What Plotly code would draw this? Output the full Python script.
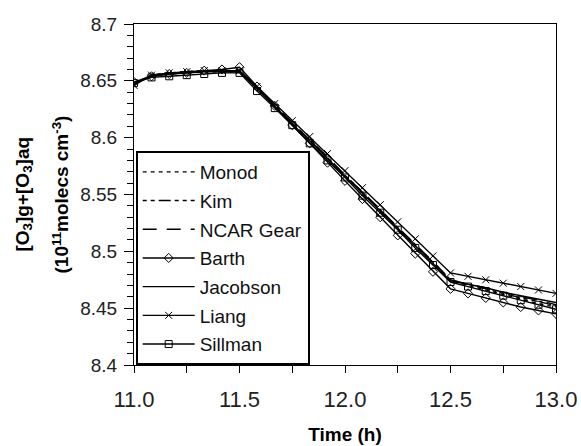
import plotly.graph_objects as go

time_h = [11.000, 11.083, 11.167, 11.250, 11.333, 11.417, 11.500,
          11.583, 11.667, 11.750, 11.833, 11.917, 12.000, 12.083,
          12.167, 12.250, 12.333, 12.417, 12.500, 12.583, 12.667,
          12.750, 12.833, 12.917, 13.000]

monod = [8.648, 8.654, 8.656, 8.657, 8.658, 8.658, 8.658, 8.643, 8.628, 8.612,
         8.597, 8.582, 8.566, 8.551, 8.536, 8.520, 8.505, 8.490, 8.474, 8.470,
         8.466, 8.462, 8.458, 8.454, 8.451]
kim = [8.648, 8.655, 8.657, 8.658, 8.659, 8.659, 8.659, 8.644, 8.628, 8.613,
       8.598, 8.582, 8.567, 8.552, 8.536, 8.521, 8.506, 8.490, 8.475, 8.471,
       8.467, 8.463, 8.459, 8.456, 8.452]
ncar = [8.647, 8.655, 8.657, 8.658, 8.659, 8.659, 8.659, 8.644, 8.629, 8.613,
        8.598, 8.583, 8.567, 8.552, 8.537, 8.521, 8.506, 8.491, 8.475, 8.471,
        8.468, 8.464, 8.460, 8.457, 8.453]
barth = [8.649, 8.654, 8.656, 8.657, 8.659, 8.660, 8.662, 8.645, 8.628, 8.611,
         8.595, 8.578, 8.562, 8.546, 8.530, 8.514, 8.498, 8.482, 8.467, 8.463,
         8.459, 8.455, 8.451, 8.448, 8.445]
jacobson = [8.648, 8.654, 8.656, 8.657, 8.658, 8.658, 8.658, 8.643, 8.627, 8.612,
            8.597, 8.581, 8.566, 8.551, 8.535, 8.520, 8.505, 8.489, 8.474, 8.471,
            8.468, 8.464, 8.461, 8.458, 8.455]
liang = [8.646, 8.655, 8.657, 8.658, 8.659, 8.659, 8.659, 8.645, 8.630, 8.615,
         8.601, 8.586, 8.571, 8.556, 8.541, 8.526, 8.511, 8.496, 8.481, 8.478,
         8.475, 8.472, 8.469, 8.466, 8.463]
sillman = [8.648, 8.653, 8.654, 8.655, 8.656, 8.657, 8.657, 8.641, 8.626, 8.611,
           8.595, 8.580, 8.565, 8.549, 8.534, 8.519, 8.503, 8.488, 8.473, 8.469,
           8.465, 8.461, 8.457, 8.453, 8.449]

y_title_lines = ["<b>[O<sub>3</sub>]g+[O<sub>3</sub>]aq</b>",
                 "<b>(10<sup>11</sup>molecs cm<sup>-3</sup>)</b>"]

series = [
    ("Monod", monod, "4px,4px", None),
    ("Kim", kim, "4px,4px,4px,4px,12px,4px", None),
    ("NCAR Gear", ncar, "14px,10px", None),
    ("Barth", barth, "solid", "diamond-open"),
    ("Jacobson", jacobson, "solid", None),
    ("Liang", liang, "solid", "x-thin-open"),
    ("Sillman", sillman, "solid", "square-open"),
]

fig = go.Figure()
for i, (name, vals, dash, sym) in enumerate(series):
    kw = dict(mode="lines")
    if sym:
        kw = dict(mode="lines+markers",
                  marker=dict(symbol=sym, size=7, color="black",
                              line=dict(color="black", width=1)))
    fig.add_trace(go.Scatter(x=time_h, y=vals, name=name, legendgroup=name,
                             line=dict(color="black", width=1.4, dash=dash),
                             **kw))

fam = "Liberation Sans, Arial, sans-serif"
for txt, shift in zip(y_title_lines, [-111, -74]):
    fig.add_annotation(text=txt, xref="paper", yref="paper", x=0, y=0.5,
                       xanchor="center", yanchor="middle", xshift=shift,
                       textangle=-90, showarrow=False,
                       font=dict(size=19, color="black", family=fam))

fig.update_layout(
    width=581, height=446,
    margin=dict(l=134, r=25, t=24, b=81, autoexpand=False),
    paper_bgcolor="white", plot_bgcolor="white",
    font=dict(size=19, family=fam, color="black"),
    showlegend=True,
    legend=dict(x=0.004, y=0.0, xanchor="left", yanchor="bottom",
                bordercolor="black", borderwidth=2, bgcolor="white",
                font=dict(size=19, color="#111", family=fam),
                traceorder="grouped", tracegroupgap=1, itemwidth=52),
    xaxis=dict(range=[11, 13], dtick=0.5, tick0=11, tickformat=".1f",
               showline=True, linecolor="black", linewidth=1, mirror=True,
               ticks="outside", ticklen=7, tickcolor="black",
               minor=dict(dtick=0.25, ticks="outside", ticklen=7, tickcolor="black"),
               showgrid=False, zeroline=False, ticklabelstandoff=8,
               automargin=False,
               tickfont=dict(size=22, color="#222"),
               title=dict(text="<b>Time (h)</b>", font=dict(size=19), standoff=16)),
    yaxis=dict(range=[8.4, 8.7], dtick=0.05, tick0=8.4,
               showline=True, linecolor="black", linewidth=1, mirror=True,
               ticks="outside", ticklen=9, tickcolor="black",
               minor=dict(dtick=0.01, ticks="outside", ticklen=6, tickcolor="black"),
               showgrid=False, zeroline=False, ticklabelstandoff=3,
               automargin=False,
               tickfont=dict(size=19, color="#222")),
)
fig.write_html("out.html", config={"displayModeBar": False},
               post_script="document.body.style.margin='0px';")
